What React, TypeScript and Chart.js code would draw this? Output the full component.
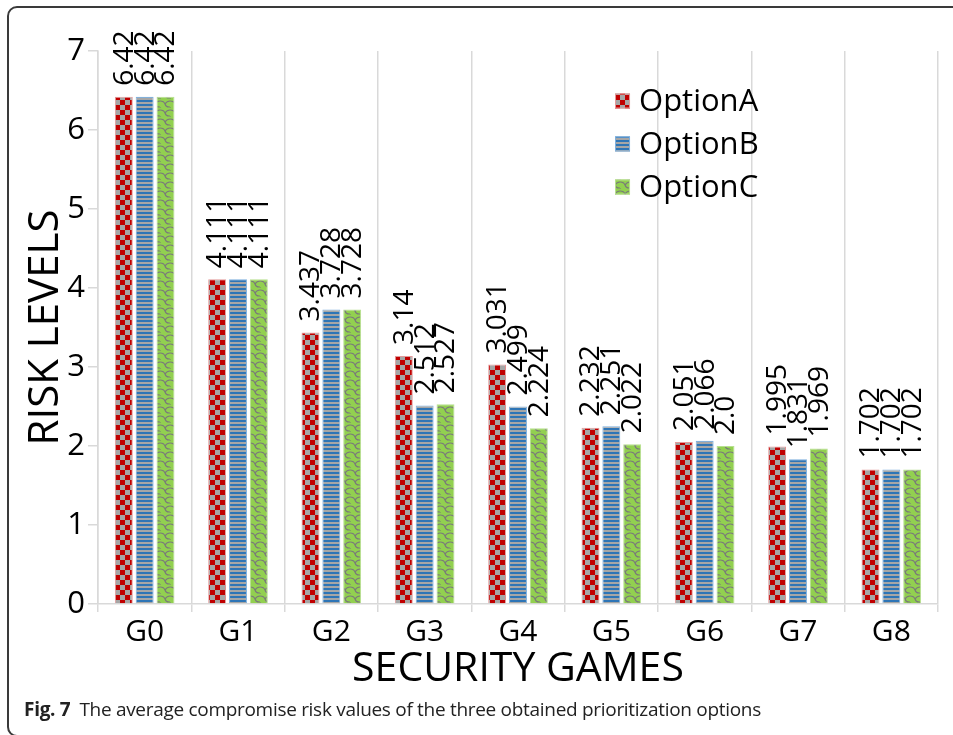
import { useEffect, useRef } from "react";
import { Chart, registerables } from "chart.js";

Chart.register(...registerables);

// Security games on the category axis
const categories = ["G0", "G1", "G2", "G3", "G4", "G5", "G6", "G7", "G8"];
const seriesNames = ["OptionA", "OptionB", "OptionC"];

// Average compromise risk per game for each prioritization option
const optionA = [6.42, 4.111, 3.437, 3.14, 3.031, 2.232, 2.051, 1.995, 1.702];
const optionB = [6.42, 4.111, 3.728, 2.512, 2.499, 2.251, 2.066, 1.831, 1.702];
const optionC = [6.42, 4.111, 3.728, 2.527, 2.224, 2.022, 2.0, 1.969, 1.702];

const yMin = 0;
const yMax = 7;
const yStep = 1;

const FONT = "'Open Sans', 'DejaVu Sans', sans-serif";
const GRID = "#d9d9d9";

const fmt = (v: number) => (Number.isInteger(v) ? v.toFixed(1) : String(v));

function makeTile(w: number, h: number, draw: (c: CanvasRenderingContext2D) => void) {
  const cv = document.createElement("canvas");
  cv.width = w;
  cv.height = h;
  const c = cv.getContext("2d")!;
  draw(c);
  return c.createPattern(cv, "repeat")!;
}

// red / grey checkerboard
function checkerPattern() {
  return makeTile(10, 10, (c) => {
    c.fillStyle = "#a6a6a6";
    c.fillRect(0, 0, 10, 10);
    c.fillStyle = "#c00000";
    c.fillRect(0, 0, 5, 5);
    c.fillRect(5, 5, 5, 5);
  });
}

// blue / grey horizontal stripes
function stripePattern() {
  return makeTile(4, 4, (c) => {
    c.fillStyle = "#a6a6a6";
    c.fillRect(0, 0, 4, 4);
    c.fillStyle = "#2e75b6";
    c.fillRect(0, 0, 4, 2);
  });
}

// green shingle texture with grey wavy curves
function shinglePattern() {
  return makeTile(10, 9, (c) => {
    c.fillStyle = "#92d050";
    c.fillRect(0, 0, 10, 9);
    c.strokeStyle = "#7a7a7a";
    c.lineWidth = 1.1;
    c.beginPath();
    c.moveTo(0, 2);
    c.quadraticCurveTo(4, 2, 5, 5);
    c.quadraticCurveTo(6, 8.5, 10, 8);
    c.stroke();
    c.beginPath();
    c.moveTo(5, 5);
    c.quadraticCurveTo(7, 2, 10, 2);
    c.stroke();
    c.beginPath();
    c.moveTo(0, 8);
    c.lineTo(0, 9);
    c.stroke();
  });
}

// value labels standing vertically above each bar
const barLabels = {
  id: "barLabels",
  afterDatasetsDraw(chart: any) {
    const { ctx } = chart;
    ctx.save();
    ctx.font = `28px ${FONT}`;
    ctx.fillStyle = "#000";
    ctx.textAlign = "left";
    ctx.textBaseline = "middle";
    chart.data.datasets.forEach((ds: any, i: number) => {
      const meta = chart.getDatasetMeta(i);
      meta.data.forEach((bar: any, j: number) => {
        ctx.save();
        ctx.translate(bar.x, bar.y - 11);
        ctx.rotate(-Math.PI / 2);
        ctx.fillText(fmt(ds.data[j]), 0, 1);
        ctx.restore();
      });
    });
    ctx.restore();
  },
};

// legend stacked in the upper right of the plot
const innerLegend = {
  id: "innerLegend",
  afterDraw(chart: any) {
    const { ctx, chartArea } = chart;
    const x0 = chartArea.left + chartArea.width * 0.6155;
    const y0 = chartArea.top + 50;
    const gap = 43;
    const box = 15;
    ctx.save();
    ctx.font = `31px ${FONT}`;
    ctx.textAlign = "left";
    ctx.textBaseline = "middle";
    chart.data.datasets.forEach((ds: any, i: number) => {
      const cy = y0 + i * gap;
      ctx.fillStyle = ds.backgroundColor;
      ctx.fillRect(x0, cy - box / 2, box, box);
      ctx.strokeStyle = ds.borderColor;
      ctx.lineWidth = 1;
      ctx.strokeRect(x0 + 0.5, cy - box / 2 + 0.5, box - 1, box - 1);
      ctx.fillStyle = "#000";
      ctx.fillText(ds.label, x0 + 24, cy + 1);
    });
    ctx.restore();
  },
};

export default function App() {
  const ref = useRef<HTMLCanvasElement>(null);

  useEffect(() => {
    const canvas = ref.current!;
    const fills = [checkerPattern(), stripePattern(), shinglePattern()];
    const borders = ["#e39a9a", "#7fb0dd", "#b7e08f"];
    const values = [optionA, optionB, optionC];

    const chart = new Chart(canvas, {
      type: "bar",
      data: {
        labels: categories,
        datasets: seriesNames.map((name, i) => ({
          label: name,
          data: values[i],
          backgroundColor: fills[i] as any,
          borderColor: borders[i],
          borderWidth: 1,
          categoryPercentage: 0.67,
          barPercentage: 0.86,
        })),
      },
      options: {
        animation: false,
        responsive: false,
        maintainAspectRatio: false,
        layout: { padding: { left: 8, right: 15, top: 51, bottom: 41 } },
        plugins: {
          legend: { display: false },
          tooltip: { enabled: false },
        },
        scales: {
          x: {
            offset: true,
            grid: {
              offset: true,
              color: GRID,
              lineWidth: 1.5,
              drawOnChartArea: true,
              drawTicks: true,
              tickLength: 8,
            },
            border: { color: GRID, width: 1.5 },
            ticks: {
              color: "#000",
              font: { family: FONT, size: 30 },
              padding: 2,
              maxRotation: 0,
            },
            title: {
              display: true,
              text: "SECURITY GAMES",
              color: "#000",
              font: { family: FONT, size: 41 },
              padding: { top: 0, bottom: 0 },
            },
            afterFit: (s: any) => {
              s.height = 90;
            },
          },
          y: {
            min: yMin,
            max: yMax,
            ticks: {
              stepSize: yStep,
              color: "#000",
              font: { family: FONT, size: 31 },
              padding: 3,
            },
            grid: {
              color: GRID,
              lineWidth: 1.5,
              drawOnChartArea: false,
              drawTicks: true,
              tickLength: 10,
            },
            border: { color: GRID, width: 1.5 },
            title: {
              display: true,
              text: "RISK LEVELS",
              color: "#000",
              font: { family: FONT, size: 42 },
              padding: { top: 13, bottom: 0 },
            },
            afterFit: (s: any) => {
              s.width = 90;
            },
          },
        },
      },
      plugins: [barLabels, innerLegend],
    });
    return () => chart.destroy();
  }, []);

  return (
    <div
      style={{
        position: "fixed",
        left: 0,
        top: 0,
        width: 953,
        height: 735,
        background: "#fff",
        overflow: "hidden",
      }}
    >
      <canvas ref={ref} width={953} height={735} style={{ position: "absolute", left: 0, top: 0 }} />
      <div
        style={{
          position: "absolute",
          left: 7,
          top: 6,
          width: 1000,
          height: 727,
          border: "2px solid #3a3a3a",
          borderRadius: 10,
          pointerEvents: "none",
        }}
      />
      <div
        style={{
          position: "absolute",
          left: 24,
          top: 696,
          fontFamily: "'Open Sans', sans-serif",
          fontSize: 19,
          color: "#222",
          whiteSpace: "nowrap",
          letterSpacing: -0.3,
        }}
      >
        <b>Fig. 7</b>
        <span style={{ marginLeft: 9 }}>The average compromise risk values of the three obtained prioritization options</span>
      </div>
    </div>
  );
}
